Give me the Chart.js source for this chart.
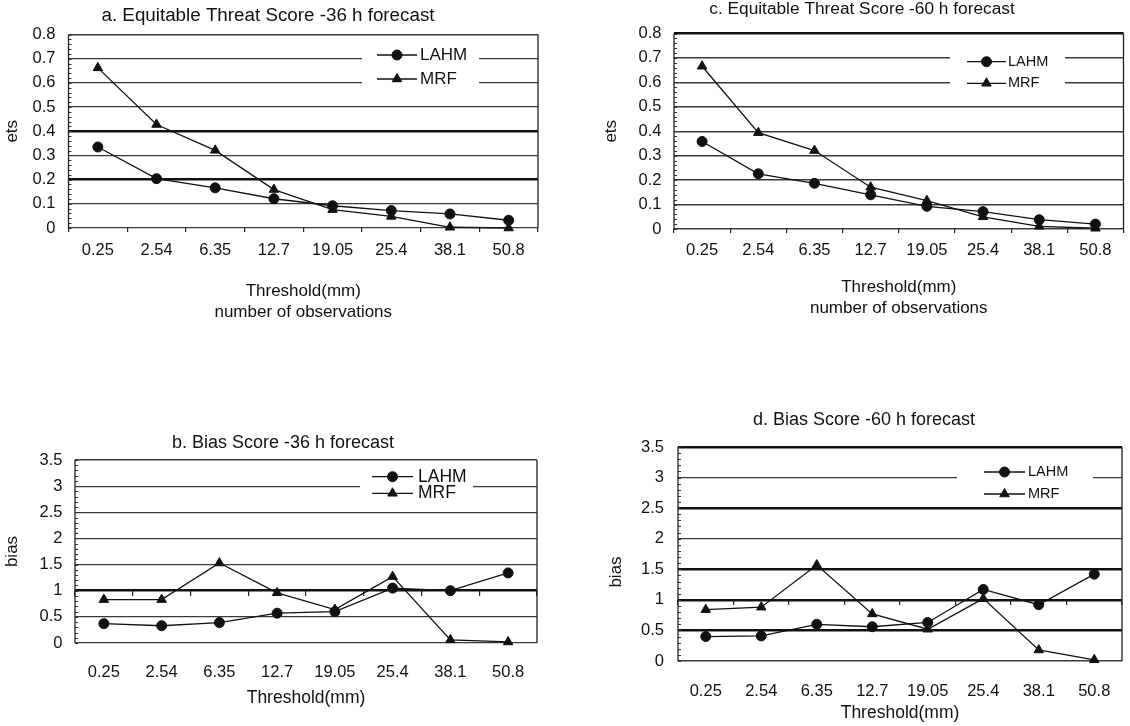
<!DOCTYPE html>
<html>
<head>
<meta charset="utf-8">
<script src="https://cdn.jsdelivr.net/npm/chart.js@4.4.1/dist/chart.umd.min.js"></script>
<style>
html,body{margin:0;padding:0;background:#fff;width:1130px;height:726px;overflow:hidden;}
canvas{position:absolute;}
</style>
</head>
<body>
<canvas id="ca" width="560" height="340" style="left:0px;top:0px"></canvas>
<canvas id="cc" width="560" height="340" style="left:570px;top:0px"></canvas>
<canvas id="cb" width="560" height="326" style="left:0px;top:400px"></canvas>
<canvas id="cd" width="560" height="326" style="left:570px;top:400px"></canvas>
<script>
// ---------------- data ----------------
const thresholds = ['0.25', '2.54', '6.35', '12.7', '19.05', '25.4', '38.1', '50.8'];
const seriesNames = ['LAHM', 'MRF'];

const ets36LAHM = [0.335, 0.204, 0.166, 0.121, 0.092, 0.072, 0.058, 0.032];
const ets36MRF  = [0.662, 0.428, 0.321, 0.159, 0.076, 0.048, 0.003, 0.0];

const ets60LAHM = [0.358, 0.226, 0.187, 0.140, 0.093, 0.071, 0.038, 0.020];
const ets60MRF  = [0.666, 0.394, 0.321, 0.171, 0.116, 0.050, 0.011, 0.003];

const bias36LAHM = [0.37, 0.33, 0.39, 0.57, 0.60, 1.05, 1.00, 1.34];
const bias36MRF  = [0.83, 0.83, 1.53, 0.96, 0.64, 1.27, 0.06, 0.02];

const bias60LAHM = [0.40, 0.41, 0.60, 0.56, 0.63, 1.17, 0.92, 1.42];
const bias60MRF  = [0.84, 0.88, 1.57, 0.77, 0.52, 1.02, 0.18, 0.02];

const etsAxisMax = 0.8, etsAxisStep = 0.1;
const biasAxisMax = 3.5, biasAxisStep = 0.5;
// --------------------------------------

const FONT = '"Liberation Sans", Arial, Helvetica, sans-serif';
Chart.defaults.font.family = FONT;
Chart.defaults.color = '#111';

function near(a, b) { return Math.abs(a - b) < 1e-6; }

function drawMarker(ctx, style, r, x, y) {
  if (Chart.helpers && Chart.helpers.drawPoint) {
    Chart.helpers.drawPoint(ctx, {pointStyle: style, radius: r, rotation: 0, borderWidth: 1}, x, y);
    return;
  }
  ctx.beginPath();
  if (style === 'circle') ctx.arc(x, y, r, 0, Math.PI * 2);
  else { ctx.moveTo(x, y - r); ctx.lineTo(x + r * 0.866, y + r / 2); ctx.lineTo(x - r * 0.866, y + r / 2); ctx.closePath(); }
  ctx.fill(); ctx.stroke();
}

const deco = {
  id: 'deco',
  beforeDatasetsDraw(chart, args, o) {
    const ctx = chart.ctx, a = chart.chartArea, y = chart.scales.y;
    ctx.save();
    // minor ticks on the value axis
    ctx.strokeStyle = '#333';
    ctx.lineWidth = 1;
    const n = Math.round((y.max - y.min) / o.minor);
    for (let i = 0; i <= n; i++) {
      const py = Math.round(y.getPixelForValue(y.min + i * o.minor)) + 0.5;
      ctx.beginPath(); ctx.moveTo(a.left, py); ctx.lineTo(a.left + 3, py); ctx.stroke();
    }
    // left / right frame
    ctx.strokeStyle = '#222';
    ctx.lineWidth = o.frameWidth;
    ctx.beginPath();
    ctx.moveTo(a.left, a.top); ctx.lineTo(a.left, a.bottom);
    ctx.moveTo(a.right, a.top); ctx.lineTo(a.right, a.bottom);
    ctx.stroke();
    ctx.restore();
  },
  afterDatasetsDraw(chart, args, o) {
    const ctx = chart.ctx;
    ctx.save();
    // legend box
    const L = o.legend;
    ctx.fillStyle = '#fff';
    ctx.fillRect(L.box[0], L.box[1], L.box[2] - L.box[0], L.box[3] - L.box[1]);
    chart.data.datasets.forEach((ds, i) => {
      const yy = L.rows[i];
      ctx.strokeStyle = '#111'; ctx.fillStyle = '#111'; ctx.lineWidth = 1.3;
      ctx.beginPath(); ctx.moveTo(L.line[0], yy); ctx.lineTo(L.line[1], yy); ctx.stroke();
      ctx.lineWidth = 1;
      drawMarker(ctx, ds.pointStyle, ds.pointRadius, (L.line[0] + L.line[1]) / 2, yy);
      ctx.fillStyle = '#111';
      ctx.font = L.size + 'px ' + FONT;
      ctx.textAlign = 'left'; ctx.textBaseline = 'middle';
      ctx.fillText(ds.label, L.text, yy);
    });
    // titles
    const T = o.title;
    ctx.fillStyle = '#111';
    ctx.font = T.size + 'px ' + FONT;
    ctx.textAlign = 'center'; ctx.textBaseline = 'middle';
    ctx.fillText(T.text, T.x, T.y);
    if (o.ytitle) {
      const Y = o.ytitle;
      ctx.save();
      ctx.translate(Y.x, Y.y);
      ctx.rotate(-Math.PI / 2);
      ctx.font = Y.size + 'px ' + FONT;
      ctx.fillText(Y.text, 0, 0);
      ctx.restore();
    }
    ctx.restore();
  }
};

function makeChart(id, c) {
  const datasets = [
    {label: seriesNames[0], data: c.lahm, pointStyle: 'circle', pointRadius: 5},
    {label: seriesNames[1], data: c.mrf, pointStyle: 'triangle', pointRadius: 5.5}
  ].map(d => Object.assign(d, {
    borderColor: '#111', backgroundColor: '#111', pointBackgroundColor: '#111',
    pointBorderColor: '#111', pointBorderWidth: 1, borderWidth: 1.3, tension: 0,
    fill: false, clip: false, pointHoverRadius: 5
  }));

  const scales = {
    x: {
      type: 'category', offset: true,
      grid: {display: c.xTicksBottom, drawOnChartArea: false, drawTicks: true, tickLength: 4, offset: true, color: '#222', lineWidth: 1.2},
      border: {display: false},
      ticks: {padding: c.xTickPad, font: {size: 16.5}, maxRotation: 0, minRotation: 0, autoSkip: false, color: '#111'},
      title: {display: true, text: c.xTitle, font: {size: c.xTitleSize, lineHeight: 21 / c.xTitleSize}, padding: {top: 0, bottom: c.xTitlePad}, color: '#111'},
      afterFit(s) { s.height = c.xHeight; }
    },
    y: {
      min: 0, max: c.max,
      ticks: {stepSize: c.step, padding: c.yTickPad, font: {size: 16.5}, color: '#111',
              callback: v => String(Math.round(v * 100) / 100)},
      grid: {
        drawTicks: false,
        color: ctx => (c.lw(ctx.tick.value) > 2 ? '#111' : '#3a3a3a'),
        lineWidth: ctx => c.lw(ctx.tick.value)
      },
      border: {display: false},
      title: {display: c.yTitleShow, text: c.yTitle, font: {size: 17}, padding: {top: c.yTitlePad, bottom: 0}, color: '#111'},
      afterFit(s) { s.width = c.yWidth; }
    }
  };
  if (c.crossAt !== undefined) {
    scales.x2 = {
      type: 'category', axis: 'x', position: {y: c.crossAt}, offset: true,
      grid: {display: true, drawOnChartArea: false, drawTicks: true, tickLength: 5, offset: true, color: '#222', lineWidth: 1.2},
      border: {display: false},
      ticks: {display: false}
    };
  }

  new Chart(document.getElementById(id), {
    type: 'line',
    data: {labels: thresholds, datasets},
    options: {
      responsive: false, animation: false, devicePixelRatio: 1,
      layout: {padding: c.pad},
      plugins: {
        legend: {display: false}, tooltip: {enabled: false}, title: {display: false},
        deco: {minor: c.minor, frameWidth: 1.3, legend: c.legend, title: c.title, ytitle: c.ytitle}
      },
      scales
    },
    plugins: [deco]
  });
}

// a. ETS 36 h
makeChart('ca', {
  lahm: ets36LAHM, mrf: ets36MRF, max: etsAxisMax, step: etsAxisStep, minor: 0.02,
  pad: {left: 0, top: 34.5, right: 22, bottom: 0},
  yWidth: 68.5, yTickPad: 13, yTitle: 'ets', yTitleShow: true, yTitlePad: 2.3,
  lw: v => (near(v, 0.4) || near(v, 0.2)) ? 2.5 : (near(v, 0.8) ? 1.5 : 1.3),
  xTicksBottom: true, xHeight: 112, xTickPad: 8.4,
  xTitle: ['Threshold(mm)', 'number of observations'], xTitleSize: 17, xTitlePad: 17.5,
  title: {text: 'a. Equitable Threat Score -36 h forecast', x: 268, y: 15.5, size: 18.8},
  legend: {box: [362, 45, 479, 90], rows: [55, 79], line: [377, 417], text: 420, size: 17}
});

// c. ETS 60 h
makeChart('cc', {
  lahm: ets60LAHM, mrf: ets60MRF, max: etsAxisMax, step: etsAxisStep, minor: 0.02,
  pad: {left: 0, top: 33.5, right: 4, bottom: 0},
  yWidth: 104, yTickPad: 12.5, yTitle: 'ets', yTitleShow: true, yTitlePad: 30.8,
  lw: v => near(v, 0.8) ? 2.5 : 1.5,
  xTicksBottom: true, xHeight: 111, xTickPad: 7.1,
  xTitle: ['Threshold(mm)', 'number of observations'], xTitleSize: 17, xTitlePad: 21.2,
  title: {text: 'c. Equitable Threat Score -60 h forecast', x: 292, y: 9.5, size: 17.3},
  legend: {box: [380, 48, 495, 93], rows: [61.7, 83.3], line: [397, 436], text: 438, size: 14.5}
});

// b. Bias 36 h
makeChart('cb', {
  lahm: bias36LAHM, mrf: bias36MRF, max: biasAxisMax, step: biasAxisStep, minor: 0.1, crossAt: 1,
  pad: {left: 0, top: 60, right: 23, bottom: 0},
  yWidth: 75, yTickPad: 12.5, yTitle: 'bias', yTitleShow: true, yTitlePad: 2.3,
  lw: v => near(v, 1) ? 2.5 : (near(v, 3.5) ? 1.5 : 1.2),
  xTicksBottom: false, xHeight: 83, xTickPad: 15.1,
  xTitle: 'Threshold(mm)', xTitleSize: 17.5, xTitlePad: 17.8,
  title: {text: 'b. Bias Score -36 h forecast', x: 283, y: 43, size: 18},
  legend: {box: [360, 66, 473, 104], rows: [76.7, 93.3], line: [372, 413], text: 418, size: 17.5}
});

// d. Bias 60 h
makeChart('cd', {
  lahm: bias60LAHM, mrf: bias60MRF, max: biasAxisMax, step: biasAxisStep, minor: 0.1, crossAt: 1,
  pad: {left: 0, top: 47, right: 8, bottom: 0},
  yWidth: 108, yTickPad: 14, yTitle: 'bias', yTitleShow: false, yTitlePad: 0,
  lw: v => (near(v, 3) || near(v, 2)) ? 1.2 : (near(v, 0) ? 1.5 : 2.5),
  xTicksBottom: false, xHeight: 65, xTickPad: 16.6,
  xTitle: 'Threshold(mm)', xTitleSize: 17.5, xTitlePad: 2,
  title: {text: 'd. Bias Score -60 h forecast', x: 294, y: 20, size: 18},
  ytitle: {text: 'bias', x: 46, y: 172, size: 17},
  legend: {box: [387, 58, 523, 103], rows: [72, 94], line: [414, 455], text: 458, size: 14.5}
});
</script>
</body>
</html>
